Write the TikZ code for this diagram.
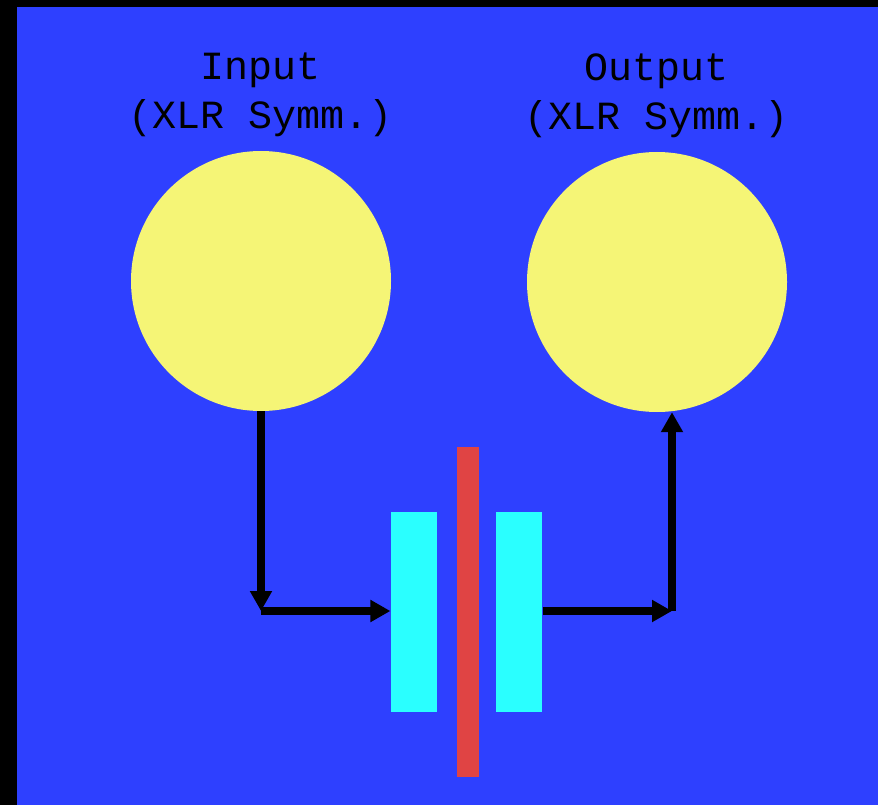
\documentclass[tikz,border=0pt]{standalone}
\usepackage{fontspec}
\newfontfamily\monofont{Liberation Mono}
\definecolor{PanelBlue}{RGB}{46,64,255}
\definecolor{JackYellow}{RGB}{245,245,118}
\definecolor{PlateCyan}{RGB}{42,255,255}
\definecolor{BarRed}{RGB}{224,68,68}
\usetikzlibrary{
    arrows.meta,
    positioning,
    calc
}

\begin{document}
\begin{tikzpicture}[
    x=1pt,
    y=-1pt,
%
    jack/.style={
        circle,
        fill=JackYellow,
        minimum size=260pt,
        inner sep=0pt
    },
%
    jacklabel/.style={
        align=center,
        inner sep=0pt,
        font=\monofont\fontsize{40}{49}\selectfont
    },
%
    plate/.style={
        fill=PlateCyan,
        minimum width=46pt,
        minimum height=200pt,
        inner sep=0pt
    },
%
    bar/.style={
        fill=BarRed,
        minimum width=22pt,
        minimum height=330pt,
        inner sep=0pt
    },
%
    arrow/.style={
        -{Triangle[length=20pt,width=21pt]},
        line width=7.5pt,
        color=black
    }
]
%
% Background
%
\useasboundingbox (0,0) rectangle (878,805);
\fill[black] (0,0) rectangle (878,805);
\fill[PanelBlue] (17,7) rectangle (878,805);
%
% Jacks
%
\node[jack] (in) at (261,281) {};
%
\node[jack] (out) at (657,282) {};
%
\node[
    jacklabel,
    above=14pt of in
] (inlabel) {
    Input\\
    (XLR Symm.)
};
%
\node[
    jacklabel,
    above=14pt of out
] (outlabel) {
    Output\\
    (XLR Symm.)
};
%
% Capacitor
%
\node[bar] (sep) at (468,612) {};
%
\node[
    plate,
    left=20pt of sep
] (platel) {};
%
\node[
    plate,
    right=17pt of sep
] (plater) {};
%
% Signal path
%
\coordinate (c1) at (in.south |- 0,611);
\coordinate (c2) at (672,611);
%
\draw[arrow] (in.south) -- (c1);
\draw[arrow] (c1) -- (platel.west |- c1);
\draw[arrow] (plater.east |- c2) -- (c2);
\draw[arrow] (c2) -- (c2 |- out.south);
%
\end{tikzpicture}
\end{document}
